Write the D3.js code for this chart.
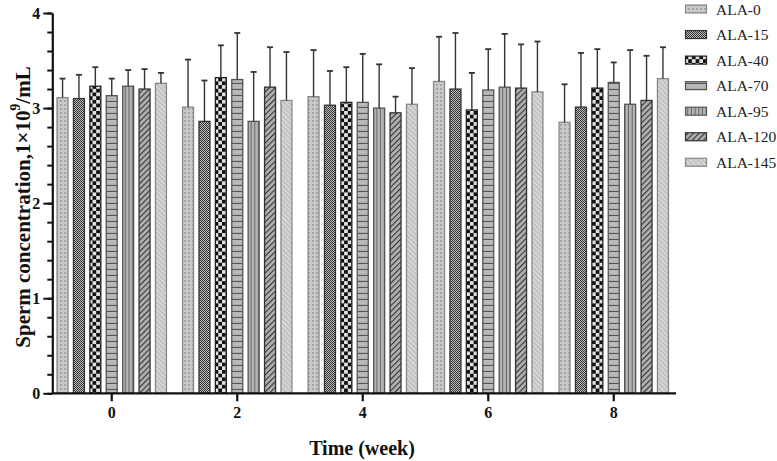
<!DOCTYPE html>
<html>
<head>
<meta charset="utf-8">
<script src="https://cdnjs.cloudflare.com/ajax/libs/d3/7.8.5/d3.min.js"></script>
<style>
body {margin: 0; background: #fff;}
svg text {font-family: "Liberation Serif", "Times New Roman", serif;}
</style>
</head>
<body>
<svg id="chart" width="777" height="461"></svg>
<script>
// weeks and groups
var weeks = ["0", "2", "4", "6", "8"];
var groups = ["ALA-0", "ALA-15", "ALA-40", "ALA-70", "ALA-95", "ALA-120", "ALA-145"];

// mean sperm concentration per group, one value per week
var ala0   = [3.11, 3.01, 3.12, 3.28, 2.85];
var ala15  = [3.10, 2.86, 3.03, 3.20, 3.01];
var ala40  = [3.23, 3.32, 3.06, 2.98, 3.21];
var ala70  = [3.13, 3.30, 3.06, 3.19, 3.27];
var ala95  = [3.23, 2.86, 3.00, 3.22, 3.04];
var ala120 = [3.20, 3.22, 2.95, 3.21, 3.08];
var ala145 = [3.26, 3.08, 3.04, 3.17, 3.31];

// SD (upper error bar)
var sd0   = [0.20, 0.50, 0.49, 0.47, 0.40];
var sd15  = [0.25, 0.43, 0.36, 0.59, 0.57];
var sd40  = [0.20, 0.34, 0.37, 0.39, 0.41];
var sd70  = [0.18, 0.49, 0.51, 0.43, 0.21];
var sd95  = [0.17, 0.52, 0.46, 0.56, 0.57];
var sd120 = [0.21, 0.42, 0.17, 0.46, 0.47];
var sd145 = [0.11, 0.51, 0.38, 0.53, 0.33];

var yTicks = [0, 1, 2, 3, 4];

var means = [ala0, ala15, ala40, ala70, ala95, ala120, ala145];
var sds = [sd0, sd15, sd40, sd70, sd95, sd120, sd145];

var rows = [];
groups.forEach(function(g, gi){
    weeks.forEach(function(w, wi){
        rows.push({group: g, gi: gi, week: w, mean: means[gi][wi], sd: sds[gi][wi]});
    });
});

var svg = d3.select("#chart");
var defs = svg.append("defs");

var strokes = ["#888", "#333", "#222", "#555", "#555", "#333", "#888"];

// patterns
function pat(id, w, h){
    return defs.append("pattern").attr("id", id)
        .attr("patternUnits", "userSpaceOnUse")
        .attr("width", w).attr("height", h);
}
var p;
p = pat("p0", 4, 4);
p.append("rect").attr("width", 4).attr("height", 4).attr("fill", "#c9c9c9");
p.append("circle").attr("cx", 1).attr("cy", 1).attr("r", 0.7).attr("fill", "#666");

p = pat("p1", 2, 2);
p.append("rect").attr("width", 2).attr("height", 2).attr("fill", "#bdbdbd");
p.append("rect").attr("width", 1).attr("height", 1).attr("fill", "#333");
p.append("rect").attr("x", 1).attr("y", 1).attr("width", 1).attr("height", 1).attr("fill", "#333");

p = pat("p2", 7.4, 7.4);
p.append("rect").attr("width", 7.4).attr("height", 7.4).attr("fill", "#e0e0e0");
p.append("rect").attr("width", 3.7).attr("height", 3.7).attr("fill", "#111");
p.append("rect").attr("x", 3.7).attr("y", 3.7).attr("width", 3.7).attr("height", 3.7).attr("fill", "#111");

p = pat("p3", 6, 6);
p.append("rect").attr("width", 6).attr("height", 6).attr("fill", "#b8b8b8");
p.append("line").attr("x1", 0).attr("x2", 6).attr("y1", 5.5).attr("y2", 5.5)
    .attr("stroke", "#555").attr("stroke-width", 1.2);

p = pat("p4", 3.7, 6);
p.append("rect").attr("width", 3.7).attr("height", 6).attr("fill", "#b4b4b4");
p.append("line").attr("x1", 3.2).attr("x2", 3.2).attr("y1", 0).attr("y2", 6)
    .attr("stroke", "#666").attr("stroke-width", 1);

p = pat("p5", 4, 4).attr("patternTransform", "rotate(45)");
p.append("rect").attr("width", 4).attr("height", 4).attr("fill", "#b0b0b0");
p.append("line").attr("x1", 0).attr("x2", 0).attr("y1", 0).attr("y2", 4)
    .attr("stroke", "#333").attr("stroke-width", 2.2);

p = pat("p6", 3.5, 3.5).attr("patternTransform", "rotate(-45)");
p.append("rect").attr("width", 3.5).attr("height", 3.5).attr("fill", "#c4c4c4");
p.append("line").attr("x1", 0).attr("x2", 0).attr("y1", 0).attr("y2", 3.5)
    .attr("stroke", "#ececec").attr("stroke-width", 1.4);

// scales
var x = d3.scaleBand().domain(weeks).range([49, 676.5]);
var inner = d3.scaleBand().domain(groups)
    .range([-57.4, 57.4]).paddingInner(0.33).paddingOuter(0.165);
var y = d3.scaleLinear().domain([0, 4]).range([393.3, 13]);

// bars
var bars = svg.append("g");
bars.selectAll("rect").data(rows).enter().append("rect")
    .attr("x", function(d){ return x(d.week) + x.bandwidth() / 2 + inner(d.group); })
    .attr("y", function(d){ return y(d.mean); })
    .attr("width", inner.bandwidth())
    .attr("height", function(d){ return y(0) - y(d.mean); })
    .attr("fill", function(d){ return "url(#p" + d.gi + ")"; })
    .attr("stroke", function(d){ return strokes[d.gi]; })
    .attr("stroke-width", 1.3);

// error bars
var eb = svg.append("g").attr("stroke", "#333");
function cx(d){ return x(d.week) + x.bandwidth() / 2 + inner(d.group) + inner.bandwidth() / 2; }
eb.selectAll("line.v").data(rows).enter().append("line").attr("class", "v")
    .attr("x1", cx).attr("x2", cx)
    .attr("y1", function(d){ return y(d.mean); })
    .attr("y2", function(d){ return y(d.mean + d.sd); })
    .attr("stroke-width", 1.4);
eb.selectAll("line.c").data(rows).enter().append("line").attr("class", "c")
    .attr("x1", function(d){ return cx(d) - 3; })
    .attr("x2", function(d){ return cx(d) + 3; })
    .attr("y1", function(d){ return y(d.mean + d.sd); })
    .attr("y2", function(d){ return y(d.mean + d.sd); })
    .attr("stroke-width", 1.8);

// x axis
var xAxis = svg.append("g")
    .attr("transform", "translate(0," + y(0) + ")")
    .call(d3.axisBottom(x).tickSize(8).tickSizeOuter(0).tickPadding(5));
xAxis.select(".domain").attr("d", "M52,0H676").attr("stroke-width", 2.2).attr("stroke", "#111");
xAxis.selectAll(".tick line").attr("stroke-width", 2.2).attr("stroke", "#111");
xAxis.selectAll("text").attr("font-size", 16).attr("font-weight", "bold")
    .attr("fill", "#111").style("font-family", "'Liberation Serif', serif");

// y axis with minor ticks
var yMinor = svg.append("g")
    .attr("transform", "translate(52.3,0)")
    .call(d3.axisLeft(y).tickValues(d3.range(0, 4.01, 0.2)).tickSize(5).tickFormat(""));
yMinor.select(".domain").remove();
yMinor.selectAll(".tick line").attr("stroke-width", 2).attr("stroke", "#111");

var yAxis = svg.append("g")
    .attr("transform", "translate(52.3,0)")
    .call(d3.axisLeft(y).tickValues(yTicks).tickSize(9).tickSizeOuter(0).tickPadding(3).tickFormat(d3.format("d")));
yAxis.select(".domain").attr("stroke-width", 2.2).attr("stroke", "#111");
yAxis.selectAll(".tick line").attr("stroke-width", 2).attr("stroke", "#111");
yAxis.selectAll("text").attr("font-size", 16).attr("font-weight", "bold")
    .attr("fill", "#111").style("font-family", "'Liberation Serif', serif");

// axis titles
svg.append("text")
    .attr("x", 362).attr("y", 455)
    .attr("text-anchor", "middle")
    .attr("font-size", 20).attr("font-weight", "bold").attr("fill", "#111")
    .text("Time (week)");

var yl = svg.append("text")
    .attr("transform", "translate(23,207) rotate(-90)")
    .attr("text-anchor", "middle")
    .attr("dominant-baseline", "central")
    .attr("font-size", 21).attr("font-weight", "bold").attr("fill", "#111");
yl.append("tspan").text("Sperm concentration,1×10");
yl.append("tspan").attr("dy", -8).attr("font-size", 14).text("9");
yl.append("tspan").attr("dy", 8).text("/mL");

// legend
var leg = svg.append("g");
var ly = d3.scalePoint().domain(groups).range([9, 162.3]);
leg.selectAll("rect").data(groups).enter().append("rect")
    .attr("x", 685.5).attr("y", function(d){ return ly(d) - 4; })
    .attr("width", 21).attr("height", 8)
    .attr("fill", function(d, i){ return "url(#p" + i + ")"; })
    .attr("stroke", function(d, i){ return strokes[i]; })
    .attr("stroke-width", 1.2);
leg.selectAll("text").data(groups).enter().append("text")
    .attr("x", 716).attr("y", function(d){ return ly(d); })
    .attr("dominant-baseline", "central")
    .attr("font-size", 15.5).attr("fill", "#222")
    .text(function(d){ return d; });
</script>
</body>
</html>
